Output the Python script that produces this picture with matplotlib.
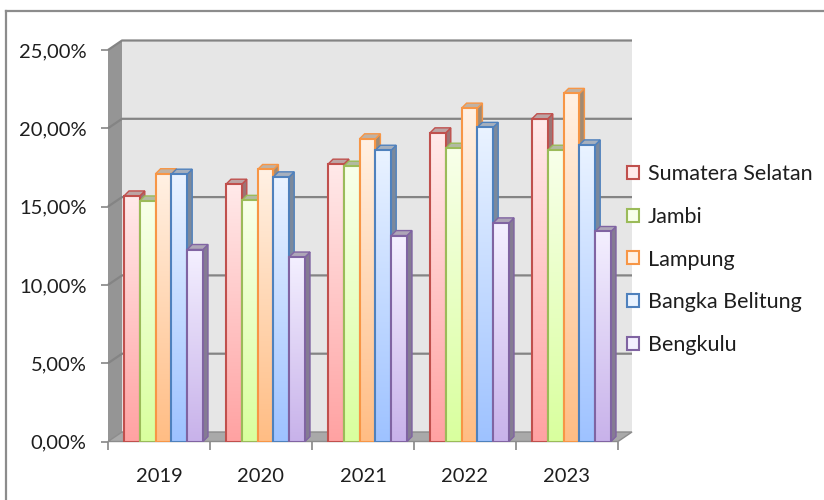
import numpy as np
import matplotlib
matplotlib.use('Agg')
import matplotlib.pyplot as plt
from matplotlib.patches import Polygon, Rectangle, Patch
from matplotlib.colors import LinearSegmentedColormap
from matplotlib.lines import Line2D

# ---------------- data ----------------
years = ['2019', '2020', '2021', '2022', '2023']
series_names = ['Sumatera Selatan', 'Jambi', 'Lampung', 'Bangka Belitung', 'Bengkulu']
sumsel = [15.68, 16.43, 17.71, 19.71, 20.61]
jambi = [15.36, 15.40, 17.58, 18.73, 18.60]
lampung = [17.10, 17.37, 19.33, 21.29, 22.23]
bangka = [17.07, 16.90, 18.60, 20.06, 18.94]
bengkulu = [12.26, 11.78, 13.15, 13.96, 13.41]
values = [sumsel, jambi, lampung, bangka, bengkulu]
y_ticks = [0, 5, 10, 15, 20, 25]
y_tick_labels = ['0,00%', '5,00%', '10,00%', '15,00%', '20,00%', '25,00%']

# ---------------- style ----------------
edges = ['#c0504d', '#9bbb59', '#f79646', '#4f81bd', '#8064a2']
grad_top = ['#ffeaea', '#f8ffea', '#fff1e4', '#eaf3ff', '#f4f0ff']
grad_bot = ['#ffa2a2', '#d9ff9e', '#ffbd84', '#9ec2ff', '#c8b2ea']
side_cols = ['#9c7474', '#8e9a76', '#a08a74', '#7b899c', '#857b93']
top_cols = ['#bca4a4', '#b2baa2', '#c0b2a4', '#a6b0be', '#aea6b8']

FONT = 'Lato'
FS = 14.5
LFS = 15.5
TXT = '#1e1e1e'

W, H = 824, 500
fig = plt.figure(figsize=(W / 100, H / 100), dpi=100)
fig.patch.set_facecolor('white')

# front plane of the chart: x 108..618 px, y 441.5 (0%) .. 50 (25%)
ax = fig.add_axes([108 / W, (H - 441.5) / H, 510 / W, 391.5 / H])
ax.set_xlim(-0.5, 4.5)
ax.set_ylim(0, 25)
ax.set_facecolor('none')
for s in ax.spines.values():
    s.set_visible(False)

PX_X = 510 / 5.0      # px per category
PX_Y = 391.5 / 25.0   # px per percent
DX = 14 / PX_X        # wall depth
DY = 9.5 / PX_Y
BDX = 5 / PX_X        # bar depth
BDY = 5 / PX_Y
BW = 15.8 / PX_X
OFF = 16 / PX_X

# back wall
ax.add_patch(Rectangle((-0.5 + DX, DY), 5, 25, fc='#e6e6e6', ec='none',
                       clip_on=False, zorder=0))
# left wall
ax.add_patch(Polygon([(-0.5, 0), (-0.5 + DX, DY), (-0.5 + DX, 25 + DY), (-0.5, 25)],
                     closed=True, fc='#959595', ec='none', clip_on=False, zorder=0.5))
# floor
ax.add_patch(Polygon([(-0.5, 0), (4.5, 0), (4.5 + DX, DY), (-0.5 + DX, DY)],
                     closed=True, fc='#a9a9a9', ec='#8c8c8c', lw=1.0,
                     clip_on=False, zorder=0.6))
# gridlines
for v in y_ticks[1:]:
    ax.plot([-0.5, -0.5 + DX, 4.5 + DX], [v, v + DY, v + DY], color='#848484',
            lw=1.6, clip_on=False, zorder=0.7, solid_capstyle='butt')

# bars
grad = np.linspace(0, 1, 256).reshape(-1, 1)
for k in range(len(years)):
    for i, ser in enumerate(values):
        v = ser[k]
        x0 = k - 0.5 + OFF + i * BW
        x1 = x0 + BW
        z = 2 + i * 0.1
        ax.add_patch(Polygon([(x1, 0), (x1 + BDX, BDY), (x1 + BDX, v + BDY), (x1, v)],
                             closed=True, fc=side_cols[i], ec=edges[i], lw=1.0,
                             zorder=z))
        ax.add_patch(Polygon([(x0, v), (x0 + BDX, v + BDY), (x1 + BDX, v + BDY), (x1, v)],
                             closed=True, fc=top_cols[i], ec=edges[i], lw=1.0,
                             zorder=z + 0.01))
        bars = ax.bar(x0, v, width=BW, align='edge', fc='none', ec=edges[i],
                      lw=1.5, zorder=z + 0.03)
        cm = LinearSegmentedColormap.from_list('g%d' % i, [grad_bot[i], grad_top[i]])
        im = ax.imshow(grad, extent=(x0, x1, 0, v), origin='lower', aspect='auto',
                       cmap=cm, zorder=z + 0.02, interpolation='bilinear')
        im.set_clip_path(bars[0])

ax.set_xlim(-0.5, 4.5)
ax.set_ylim(0, 25)

# ticks
ax.set_yticks(y_ticks)
ax.set_yticklabels(y_tick_labels, fontsize=FS, family=FONT, color=TXT)
ax.tick_params(axis='y', which='major', length=5.0, width=1.2, color='#868686',
               direction='out', pad=10.5)
ax.set_xticks(range(len(years)))
ax.set_xticklabels(years, fontsize=FS, family=FONT, color=TXT)
ax.set_xticks(np.arange(-0.5, 5, 1.0), minor=True)
ax.tick_params(axis='x', which='major', length=0, pad=19)
ax.tick_params(axis='x', which='minor', length=6, width=1.2, color='#868686',
               direction='out')

# legend
handles = [Patch(fc=grad_top[i], ec=edges[i], lw=1.5) for i in range(len(series_names))]
leg = fig.legend(handles, series_names, loc='center left',
                 bbox_to_anchor=(627 / W, 1 - 259.5 / H), frameon=False,
                 prop={'family': FONT, 'size': LFS}, handlelength=0.56,
                 handleheight=0.56, handletextpad=0.4, labelspacing=1.06,
                 borderpad=0, borderaxespad=0)
for t in leg.get_texts():
    t.set_color(TXT)

# outer border
fig.add_artist(Line2D([6 / W, 1], [1 - 11 / H, 1 - 11 / H], transform=fig.transFigure,
                      color='#8c8c8c', lw=1.6))
fig.add_artist(Line2D([6 / W, 6 / W], [0, 1 - 11 / H], transform=fig.transFigure,
                      color='#8c8c8c', lw=1.6))

fig.savefig('out.png', dpi=100)
